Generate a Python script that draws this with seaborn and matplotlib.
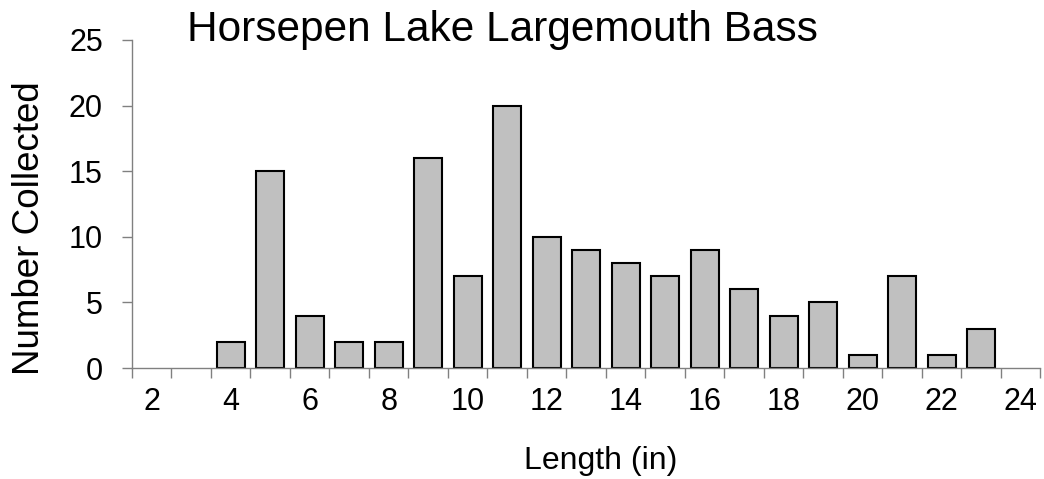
import numpy as np
import pandas as pd
import matplotlib
matplotlib.use('Agg')
import matplotlib.pyplot as plt
import seaborn as sns

# length classes (in) and fish counts
lengths = list(range(2, 25))
counts = [0, 0, 2, 15, 4, 2, 2, 16, 7, 20, 10, 9, 8, 7, 9, 6, 4, 5, 1, 7, 1, 3, 0]
tick_labels = [str(v) for v in range(2, 25, 2)]

sns.set_style('white')
plt.rcParams['font.family'] = ['Liberation Sans', 'DejaVu Sans']
plt.rcParams['text.color'] = 'black'
plt.rcParams['xtick.labelcolor'] = 'black'
plt.rcParams['ytick.labelcolor'] = 'black'

df = pd.DataFrame({'length': lengths, 'count': counts})

fig = plt.figure(figsize=(10.44, 4.79), dpi=100)
ax = fig.add_axes([0.1264, 0.2317, 0.8702, 0.6848])

sns.barplot(data=df, x='length', y='count', order=lengths, color='#C0C0C0',
            saturation=1, edgecolor='black', linewidth=1.5, width=0.7, ax=ax)

# hide empty bars (zero height still draws an edge line)
for p in ax.patches:
    if p.get_height() == 0:
        p.set_visible(False)

ax.set_xlim(-0.5, len(lengths) - 0.5)
ax.set_ylim(0, 25)
ax.set_yticks(range(0, 26, 5))
ax.set_xticks(range(0, len(lengths), 2))
ax.set_xticklabels(tick_labels)
ax.set_xticks(np.arange(-0.5, len(lengths), 1), minor=True)

ax.tick_params(axis='x', which='major', length=0, pad=14, labelsize=22, labelcolor='black')
ax.tick_params(axis='x', which='minor', length=7, width=1, color='#808080', direction='out', bottom=True)
ax.tick_params(axis='y', length=7, width=1, color='#808080', direction='out', left=True, pad=14,
               labelsize=22, labelcolor='black')

for side in ['top', 'right']:
    ax.spines[side].set_visible(False)
for side in ['left', 'bottom']:
    ax.spines[side].set_color('#808080')
    ax.spines[side].set_linewidth(1)

ax.set_xlabel('')
ax.set_ylabel('')

fig.text(0.481, 1 - 30 / 479, 'Horsepen Lake Largemouth Bass', ha='center', va='center', fontsize=30.5)
fig.text(30 / 1044, 1 - 228 / 479, 'Number Collected', rotation=90, ha='center', va='center', fontsize=26.5)
fig.text(601 / 1044, 1 - 461 / 479, 'Length (in)', ha='center', va='center', fontsize=23)

fig.savefig('out.png', dpi=100)
